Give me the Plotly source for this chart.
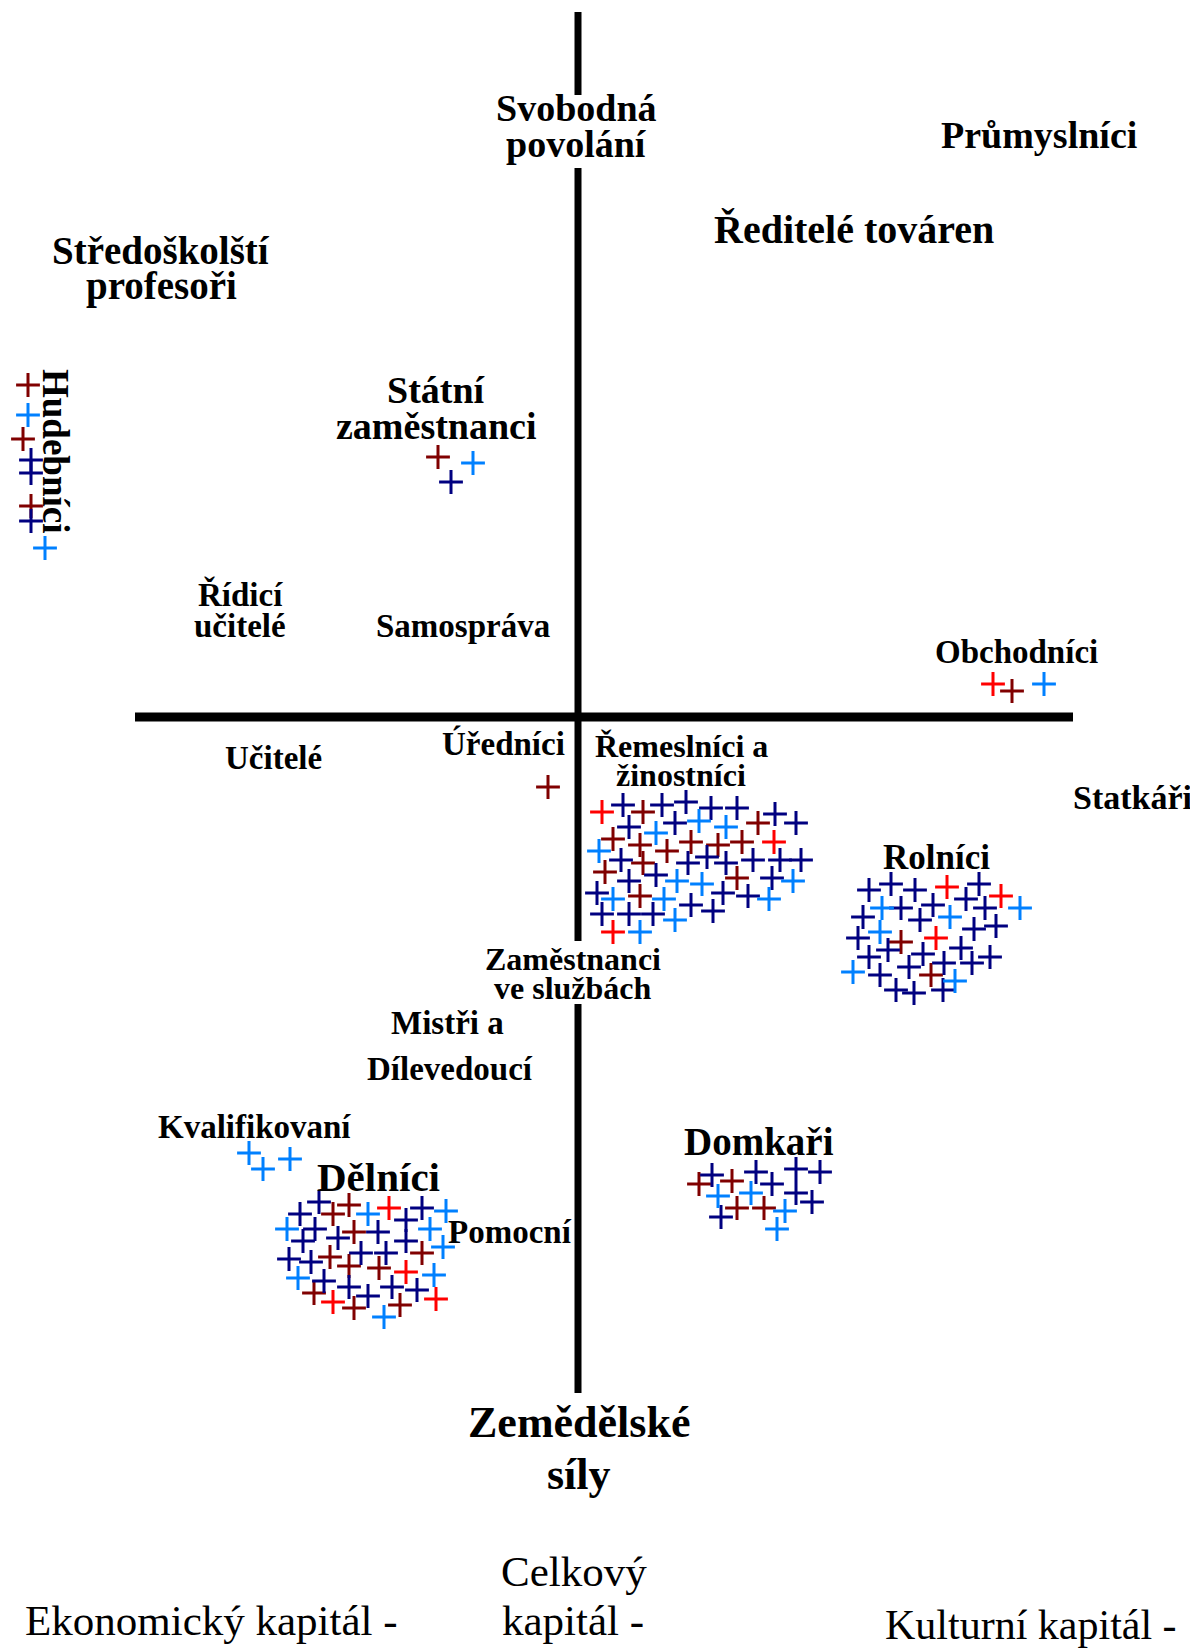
import plotly.graph_objects as go

# Cross positions (x from left, y from top)
DARK_RED_X = [28, 23, 31, 438, 1012, 548,
              643, 758, 613, 640, 667, 691, 718, 742, 643, 605, 737, 640,
              901, 931,
              349, 333, 354, 330, 422, 349, 379, 314, 354, 400,
              699, 732, 737, 764]
DARK_RED_Y = [385, 439, 506, 457, 691, 787,
              812, 823, 839, 845, 851, 842, 845, 842, 863, 872, 878, 896,
              942, 975,
              1205, 1214, 1232, 1257, 1253, 1266, 1268, 1293, 1308, 1305,
              1184, 1181, 1208, 1208]

RED_X = [993, 602, 774, 613, 947, 1001, 936, 389, 406, 436, 333]
RED_Y = [684, 812, 842, 932, 887, 896, 938, 1208, 1272, 1299, 1302]

NAVY_X = [31, 31, 31, 451,
          623, 662, 686, 711, 737, 775, 796, 629, 675, 621, 688, 707, 726, 753,
          780, 801, 656, 629, 772, 597, 723, 748, 691, 713, 602, 629, 653,
          869, 891, 915, 979, 966, 901, 933, 920, 985, 863, 974, 996, 858, 888,
          923, 961, 869, 990, 909, 944, 972, 880, 896, 914, 943,
          319, 300, 422, 406, 315, 378, 338, 303, 406, 361, 386, 289, 311, 324,
          349, 392, 417, 368,
          712, 756, 772, 796, 796, 820, 812, 721]
NAVY_Y = [460, 473, 521, 482,
          805, 805, 802, 808, 808, 814, 823, 827, 823, 860, 863, 857, 863, 860,
          860, 860, 875, 881, 878, 893, 893, 896, 905, 911, 914, 914, 914,
          890, 884, 890, 884, 899, 908, 905, 920, 908, 917, 929, 926, 938, 950,
          954, 948, 957, 957, 967, 963, 963, 975, 990, 993, 990,
          1202, 1214, 1208, 1220, 1229, 1232, 1238, 1241, 1241, 1253, 1253, 1259,
          1262, 1281, 1287, 1287, 1290, 1296,
          1175, 1172, 1184, 1169, 1193, 1172, 1202, 1217]

LIGHT_BLUE_X = [28, 45, 473, 1044,
                656, 699, 726, 599, 677, 702, 793, 613, 664, 769, 675, 640,
                882, 950, 880, 1020, 853, 955,
                249, 263, 290,
                368, 446, 287, 430, 443, 434, 298, 384,
                718, 751, 785, 777]
LIGHT_BLUE_Y = [415, 548, 463, 684,
                833, 821, 827, 851, 881, 884, 881, 899, 899, 899, 920, 932,
                908, 917, 932, 908, 972, 981,
                1153, 1169, 1159,
                1214, 1211, 1229, 1229, 1247, 1275, 1278, 1317,
                1196, 1193, 1211, 1229]

# (text, x, y, size, bold, angle)
LABELS = [
    ("Svobodná", 576, 108, 38, True, 0),
    ("povolání", 576, 144, 38, True, 0),
    ("Průmyslníci", 1039, 135, 38, True, 0),
    ("Ředitelé továren", 854, 229, 40, True, 0),
    ("Středoškolští", 161, 250, 39, True, 0),
    ("profesoři", 161, 286, 39, True, 0),
    ("Hudebníci", 56, 451, 37, True, 90),
    ("Státní", 436, 390, 38, True, 0),
    ("zaměstnanci", 436, 426, 38, True, 0),
    ("Řídicí", 240, 594, 33, True, 0),
    ("učitelé", 240, 626, 33, True, 0),
    ("Samospráva", 463, 626, 33, True, 0),
    ("Obchodníci", 1016, 652, 33, True, 0),
    ("Učitelé", 273, 758, 33, True, 0),
    ("Úředníci", 503, 743, 33, True, 0),
    ("Řemeslníci a", 681, 746, 32, True, 0),
    ("žinostníci", 681, 775, 32, True, 0),
    ("Statkáři", 1132, 797, 34, True, 0),
    ("Rolníci", 936, 857, 35, True, 0),
    ("Zaměstnanci", 573, 959, 32, True, 0),
    ("ve službách", 573, 988, 32, True, 0),
    ("Mistři a", 447, 1023, 33, True, 0),
    ("Dílevedoucí", 450, 1069, 33, True, 0),
    ("Kvalifikovaní", 254, 1127, 33, True, 0),
    ("Dělníci", 378, 1177, 41, True, 0),
    ("Pomocní", 510, 1232, 33, True, 0),
    ("Domkaři", 759, 1141, 39, True, 0),
    ("Zemědělské", 579, 1422, 44, True, 0),
    ("síly", 579, 1474, 44, True, 0),
    ("Celkový", 574, 1571, 43, False, 0),
    ("kapitál -", 573, 1620, 43, False, 0),
    ("Ekonomický kapitál -", 211, 1620, 43, False, 0),
    ("Kulturní kapitál -", 1031, 1625, 42, False, 0),
]

W, H = 1198, 1649
PAD = 8            # default body margin of the html page
X0, Y0 = 578, 717  # where the two axes cross

fig = go.Figure()

for xs, ys, color in [
    (DARK_RED_X, DARK_RED_Y, "#800000"),
    (NAVY_X, NAVY_Y, "#000080"),
    (LIGHT_BLUE_X, LIGHT_BLUE_Y, "#0080ff"),
    (RED_X, RED_Y, "#ff0000"),
]:
    fig.add_trace(
        go.Scatter(
            x=xs,
            y=ys,
            mode="markers",
            marker=dict(symbol="cross-thin", size=17, color=color,
                        line=dict(color=color, width=3)),
            hoverinfo="skip",
            showlegend=False,
        )
    )

# axes: horizontal one, vertical one broken where labels sit on it
fig.add_shape(type="line", x0=135, x1=1073, y0=Y0, y1=Y0,
              line=dict(color="black", width=9), layer="below")
for y0, y1 in [(12, 95), (168, 941), (1004, 1393)]:
    fig.add_shape(type="line", x0=X0, x1=X0, y0=y0, y1=y1,
                  line=dict(color="black", width=7), layer="below")

for text, x, y, size, bold, angle in LABELS:
    fig.add_annotation(
        x=x, y=y, text=text, showarrow=False, textangle=angle,
        xanchor="center", yanchor="middle",
        font=dict(family="Liberation Serif", size=size, color="black",
                  weight="bold" if bold else "normal"),
    )

fig.update_layout(
    width=W - PAD,
    height=H - PAD,
    margin=dict(l=0, r=0, t=0, b=0),
    paper_bgcolor="white",
    plot_bgcolor="white",
    xaxis=dict(range=[PAD, W], visible=False, fixedrange=True),
    yaxis=dict(range=[H, PAD], visible=False, fixedrange=True),
)

fig.write_html("out.html")
